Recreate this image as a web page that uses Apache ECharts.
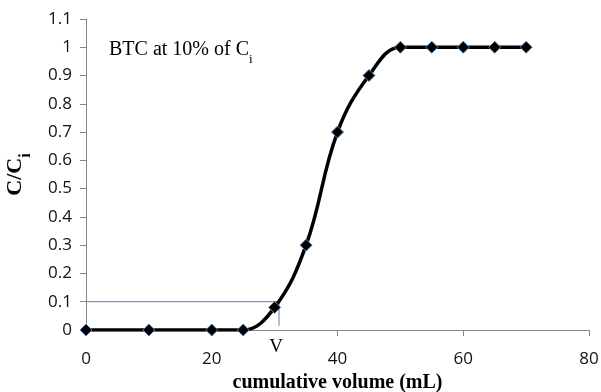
<!DOCTYPE html>
<html><head><meta charset="utf-8">
<script src="https://cdn.jsdelivr.net/npm/echarts@6/dist/echarts.min.js"></script>
<style>html,body{margin:0;padding:0;background:#fff}#c{width:601px;height:392px}</style>
</head><body><div id="c"></div>
<script>
var volumes = [0, 10, 20, 25, 30, 35, 40, 45, 50, 55, 60, 65, 70];
var ratios  = [0, 0, 0, 0, 0.08, 0.3, 0.7, 0.9, 1, 1, 1, 1, 1];
var breakVolume = 30.7;
var breakRatio = 0.1;
var breakLineBottom = 0.015;

var chart = echarts.init(document.getElementById('c'));
chart.setOption({
  animation: false,
  grid: {left: 86, right: 12, top: 19, bottom: 62, containLabel: false, outerBoundsMode: 'none'},
  xAxis: {
    type: 'value', min: 0, max: 80, interval: 20,
    name: 'cumulative volume (mL)', nameLocation: 'middle', nameGap: 42,
    nameTextStyle: {fontFamily: 'Liberation Serif', fontWeight: 'bold', fontSize: 20, color: '#000'},
    axisLine: {lineStyle: {color: '#868686'}},
    axisTick: {show: true, length: 6, lineStyle: {color: '#868686'}},
    axisLabel: {fontFamily: 'Open Sans', fontSize: 17, color: '#111', margin: 21},
    splitLine: {show: false}
  },
  yAxis: {
    type: 'value', min: 0, max: 1.1, interval: 0.1,
    name: 'C/C{s|i}', nameLocation: 'middle', nameGap: 60,
    nameTextStyle: {fontFamily: 'Liberation Serif', fontWeight: 'bold', fontSize: 22, color: '#000',
      rich: {s: {fontFamily: 'Liberation Serif', fontWeight: 'bold', fontSize: 16, verticalAlign: 'bottom', padding: [0,0,-8,0]}}},
    axisLine: {show: true, lineStyle: {color: '#868686'}},
    axisTick: {show: true, length: 6, lineStyle: {color: '#868686'}},
    axisLabel: {fontFamily: 'Open Sans', fontSize: 17, color: '#111', margin: 14,
      formatter: function(v){ return String(Math.round(v*10)/10); }},
    splitLine: {show: false}
  },
  graphic: [{
    type: 'text', left: 109, top: 40,
    style: {
      text: 'BTC at 10% of C{s|i}',
      fontFamily: 'Liberation Serif', fontSize: 20, fill: '#000',
      rich: {s: {fontFamily: 'Liberation Serif', fontSize: 13, verticalAlign: 'bottom', padding: [0,0,-6,0]}}
    }
  }],
  series: [
    {
      type: 'line',
      data: [[0, breakRatio], [breakVolume, breakRatio], [breakVolume, breakLineBottom]],
      showSymbol: false, symbol: 'none',
      lineStyle: {color: '#4f81bd', width: 1},
      markPoint: {
        symbol: 'circle', symbolSize: 0,
        data: [{coord: [breakVolume, 0], value: 'V'}],
        label: {show: true, formatter: 'V', position: 'bottom', offset: [-3, 3],
          fontFamily: 'Liberation Serif', fontSize: 19, color: '#000'}
      },
      z: 1
    },
    {
      type: 'line',
      data: volumes.map(function(v, i){ return [v, ratios[i]]; }),
      smooth: 0.4,
      symbol: 'diamond', symbolSize: 12, showAllSymbol: true,
      lineStyle: {color: '#000', width: 3.5},
      itemStyle: {color: '#000', borderColor: '#4f81bd', borderWidth: 1},
      z: 3
    }
  ]
});
</script></body></html>
